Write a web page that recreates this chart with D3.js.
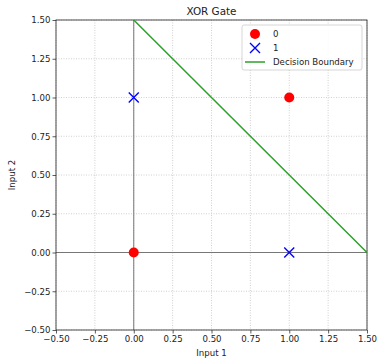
<!DOCTYPE html>
<html>
<head>
<meta charset="utf-8">
<script src="https://cdn.jsdelivr.net/npm/d3@7"></script>
<style>
	body { margin: 0; background: #fff; }
	text { font-family: "DejaVu Sans", sans-serif; fill: #222; }
</style>
</head>
<body>
<div id="chart"></div>
<script>
// data
var class0X = [0, 1];
var class0Y = [0, 1];
var class1X = [0, 1];
var class1Y = [1, 0];
var boundaryX = [0, 1.5];
var boundaryY = [1.5, 0];
var tickValues = [-0.5, -0.25, 0, 0.25, 0.5, 0.75, 1, 1.25, 1.5];
var legendLabels = ["0", "1", "Decision Boundary"];

var svgWidth = 378;
var svgHeight = 359;
var margin = { top: 20, right: 11, bottom: 29, left: 56 };
var width = svgWidth - margin.left - margin.right;
var height = svgHeight - margin.top - margin.bottom;

var svg = d3.select("#chart").append("svg")
	.attr("width", svgWidth)
	.attr("height", svgHeight);

var chartGroup = svg.append("g")
	.attr("transform", `translate(${margin.left}, ${margin.top})`);

var x = d3.scaleLinear().domain([-0.5, 1.5]).range([0, width]);
var y = d3.scaleLinear().domain([-0.5, 1.5]).range([height, 0]);

// grid
chartGroup.append("g").selectAll("line")
	.data(tickValues).enter().append("line")
	.attr("x1", d => x(d)).attr("x2", d => x(d))
	.attr("y1", 0).attr("y2", height)
	.attr("stroke", "#c4c4c4").attr("stroke-width", 0.8)
	.attr("stroke-dasharray", "1,1.5");
chartGroup.append("g").selectAll("line")
	.data(tickValues).enter().append("line")
	.attr("y1", d => y(d)).attr("y2", d => y(d))
	.attr("x1", 0).attr("x2", width)
	.attr("stroke", "#c4c4c4").attr("stroke-width", 0.8)
	.attr("stroke-dasharray", "1,1.5");

// zero lines
chartGroup.append("line")
	.attr("x1", 0).attr("x2", width).attr("y1", y(0)).attr("y2", y(0))
	.attr("stroke", "#777").attr("stroke-width", 1);
chartGroup.append("line")
	.attr("x1", x(0)).attr("x2", x(0)).attr("y1", 0).attr("y2", height)
	.attr("stroke", "#777").attr("stroke-width", 1);

// axes
var fmt = d3.format(".2f");
var bottomAxis = d3.axisBottom(x).tickValues(tickValues)
	.tickFormat(d => fmt(d).replace("-", "\u2212")).tickSize(3.5).tickPadding(2);
var leftAxis = d3.axisLeft(y).tickValues(tickValues)
	.tickFormat(d => fmt(d).replace("-", "\u2212")).tickSize(3.5).tickPadding(2);

var xAxis = chartGroup.append("g")
	.attr("transform", `translate(0, ${height})`)
	.call(bottomAxis);
var yAxis = chartGroup.append("g").call(leftAxis);
[xAxis, yAxis].forEach(function(a) {
	a.select(".domain").remove();
	a.selectAll("line").attr("stroke", "#333").attr("stroke-width", 0.8);
	a.selectAll("text").style("font-size", "8.6px").attr("fill", "#222");
});

// frame
chartGroup.append("rect")
	.attr("width", width).attr("height", height)
	.attr("fill", "none").attr("stroke", "#222").attr("stroke-width", 0.8);

// decision boundary
var line = d3.line().x(d => x(d[0])).y(d => y(d[1]));
chartGroup.append("path")
	.datum(boundaryX.map((d, i) => [d, boundaryY[i]]))
	.attr("d", line)
	.attr("fill", "none")
	.attr("stroke", "#2ca02c")
	.attr("stroke-width", 1.5);

// class 0 points
chartGroup.selectAll(".pt0")
	.data(class0X).enter().append("circle")
	.attr("class", "pt0")
	.attr("cx", d => x(d))
	.attr("cy", (d, i) => y(class0Y[i]))
	.attr("r", 5)
	.attr("fill", "red");

// class 1 points
var s = 5;
chartGroup.selectAll(".pt1")
	.data(class1X).enter().append("path")
	.attr("class", "pt1")
	.attr("transform", (d, i) => `translate(${x(d)}, ${y(class1Y[i])})`)
	.attr("d", `M${-s},${-s}L${s},${s}M${-s},${s}L${s},${-s}`)
	.attr("stroke", "blue")
	.attr("stroke-width", 1.4)
	.attr("fill", "none");

// legend
var legend = svg.append("g").attr("transform", "translate(242, 25)");
legend.append("rect")
	.attr("width", 120).attr("height", 45).attr("rx", 2)
	.attr("fill", "rgba(255,255,255,0.85)")
	.attr("stroke", "#ccc").attr("stroke-width", 0.8);
legend.append("circle").attr("cx", 13).attr("cy", 9).attr("r", 5).attr("fill", "red");
legend.append("path")
	.attr("transform", "translate(13, 23)")
	.attr("d", `M${-s},${-s}L${s},${s}M${-s},${s}L${s},${-s}`)
	.attr("stroke", "blue").attr("stroke-width", 1.4);
legend.append("line")
	.attr("x1", 3).attr("x2", 23).attr("y1", 37).attr("y2", 37)
	.attr("stroke", "#2ca02c").attr("stroke-width", 1.5);
legend.selectAll(".lbl")
	.data(legendLabels).enter().append("text")
	.attr("class", "lbl")
	.attr("x", 31)
	.attr("y", (d, i) => 9 + i * 14)
	.attr("dy", "0.35em")
	.style("font-size", "8.6px")
	.text(d => d);

// titles
svg.append("text")
	.attr("x", margin.left + width / 2).attr("y", 15)
	.attr("text-anchor", "middle")
	.style("font-size", "10.4px")
	.text("XOR Gate");
svg.append("text")
	.attr("x", margin.left + width / 2).attr("y", 356)
	.attr("text-anchor", "middle")
	.style("font-size", "8.6px")
	.text("Input 1");
svg.append("text")
	.attr("transform", `translate(15, ${margin.top + height / 2}) rotate(-90)`)
	.attr("text-anchor", "middle")
	.style("font-size", "8.6px")
	.text("Input 2");
</script>
</body>
</html>
